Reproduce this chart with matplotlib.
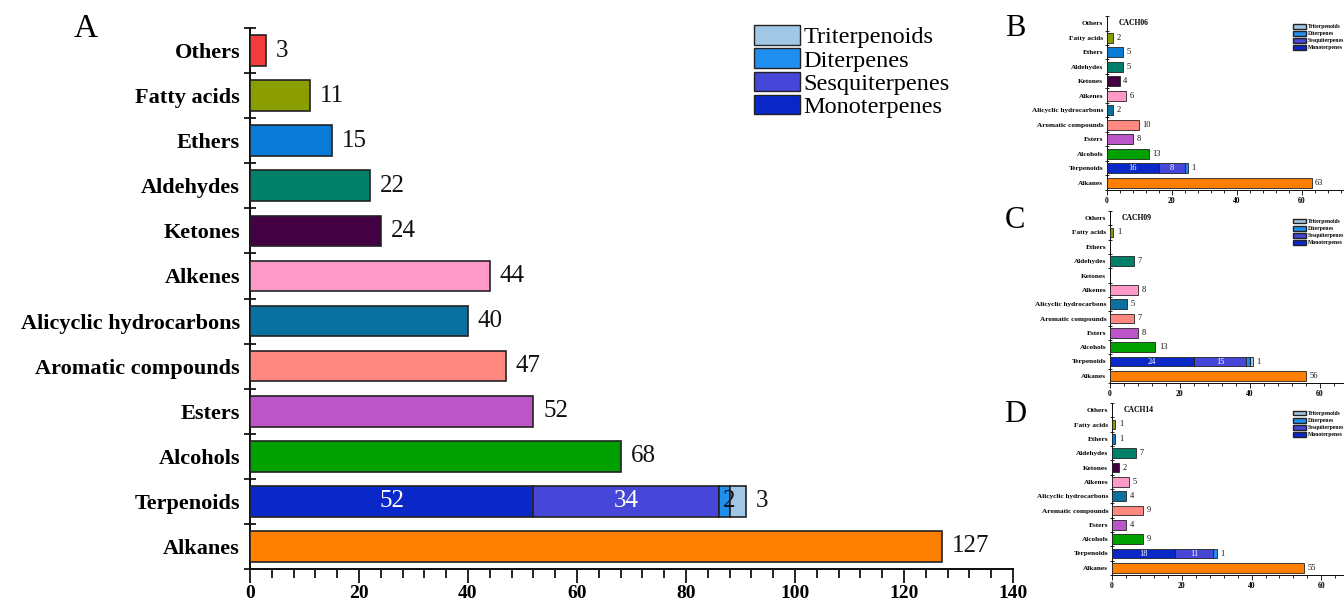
import matplotlib
matplotlib.use("Agg")
import matplotlib.pyplot as plt
from matplotlib.ticker import MultipleLocator, FixedLocator
from matplotlib.patches import Patch

plt.rcParams['font.family'] = ['Liberation Serif', 'DejaVu Serif']

# Compound classes, bottom to top
categories = ["Alkanes", "Terpenoids", "Alcohols", "Esters", "Aromatic compounds",
              "Alicyclic hydrocarbons", "Alkenes", "Ketones", "Aldehydes", "Ethers",
              "Fatty acids", "Others"]
class_colors = ["#FF7F00", None, "#00A000", "#BB55C8", "#FF8880", "#0A70A0",
                "#FF9AC8", "#430042", "#008068", "#0A7CD8", "#8A9E00", "#F53C3C"]

# Terpenoid sub-classes (stacked, left to right)
terp_names = ["Monoterpenes", "Sesquiterpenes", "Diterpenes", "Triterpenoids"]
terp_colors = ["#0A28C8", "#4646D8", "#2090F0", "#A0C8E6"]

# Panel A: all samples
total_counts = [127, None, 68, 52, 47, 40, 44, 24, 22, 15, 11, 3]
total_terp = [52, 34, 2, 3]

# Panel B: CACH06
cach06_counts = [63, None, 13, 8, 10, 2, 6, 4, 5, 5, 2, 0]
cach06_terp = [16, 8, 1, 0]

# Panel C: CACH09
cach09_counts = [56, None, 13, 8, 7, 5, 8, 0, 7, 0, 1, 0]
cach09_terp = [24, 15, 1, 1]

# Panel D: CACH14
cach14_counts = [55, None, 9, 4, 9, 4, 5, 2, 7, 1, 1, 0]
cach14_terp = [18, 11, 1, 0]

W, H = 1344, 604
fig = plt.figure(figsize=(W / 100, H / 100), dpi=100)


def draw_panel(ax, counts, terp, xmax, xmajor, xminor, cat_fs, val_fs, inner_fs,
               xlab_fs, xlab_pad, edge_lw, pad, tick_len):
    y = list(range(len(categories)))
    for i, (c, col) in enumerate(zip(counts, class_colors)):
        if c is None:
            continue
        if c > 0:
            ax.barh(i, c, height=0.68, color=col, edgecolor="#222222",
                    linewidth=edge_lw, zorder=3)
            ax.text(c + pad, i, str(c), va='center', ha='left',
                    fontsize=val_fs, color="#111111")
    # stacked terpenoid bar
    ti = categories.index("Terpenoids")
    left = 0
    for v, col in zip(terp, terp_colors):
        if v > 0:
            ax.barh(ti, v, left=left, height=0.68, color=col, edgecolor="#222222",
                    linewidth=edge_lw, zorder=3)
        left += v
    m, s, d, t = terp
    ax.text(m / 2, ti, str(m), ha='center', va='center', color='white', fontsize=inner_fs)
    ax.text(m + s / 2, ti, str(s), ha='center', va='center', color='white', fontsize=inner_fs)
    if t > 0:
        ax.text(m + s + d, ti, str(d), ha='center', va='center', color='#111111',
                fontsize=inner_fs)
        ax.text(m + s + d + t + pad, ti, str(t), ha='left', va='center',
                color='#111111', fontsize=val_fs)
    else:
        ax.text(m + s + d + pad, ti, str(d), ha='left', va='center',
                color='#111111', fontsize=val_fs)

    ax.set_xlim(0, xmax)
    ax.set_ylim(-0.5, len(categories) - 0.5)
    ax.set_yticks(y)
    ax.set_yticklabels(categories, fontsize=cat_fs, fontweight='bold')
    ax.yaxis.set_minor_locator(FixedLocator([i - 0.5 for i in range(len(categories) + 1)]))
    ax.tick_params(axis='y', which='major', length=0, pad=tick_len * 0.9)
    ax.tick_params(axis='y', which='minor', direction='inout', length=tick_len,
                   width=edge_lw)
    ax.xaxis.set_major_locator(MultipleLocator(xmajor))
    ax.xaxis.set_minor_locator(MultipleLocator(xminor))
    ax.tick_params(axis='x', which='major', direction='out', length=tick_len * 1.3,
                   width=edge_lw, labelsize=xlab_fs, pad=xlab_pad)
    ax.tick_params(axis='x', which='minor', direction='out', length=tick_len * 0.8,
                   width=edge_lw)
    for lab in ax.get_xticklabels():
        lab.set_fontweight('bold')
    for side in ('top', 'right'):
        ax.spines[side].set_visible(False)
    for side in ('left', 'bottom'):
        ax.spines[side].set_linewidth(edge_lw * 1.2)
        ax.spines[side].set_color('#111111')


def legend(ax, **kw):
    handles = [Patch(facecolor=c, edgecolor="#222222", label=n)
               for n, c in zip(terp_names, terp_colors)][::-1]
    ax.legend(handles=handles, frameon=False, **kw)


# Panel A
axA = fig.add_axes([250 / W, 1 - 569 / H, 763 / W, 541 / H])
draw_panel(axA, total_counts, total_terp, 140, 20, 4, cat_fs=16, val_fs=18,
           inner_fs=18, xlab_fs=14, xlab_pad=1.0, edge_lw=1.2, pad=1.8, tick_len=8)
legend(axA, loc='upper left', bbox_to_anchor=(504 / 763, 1.005),
       prop={'size': 17.5}, handlelength=1.9, handleheight=0.85,
       labelspacing=0.0, handletextpad=0.12, borderaxespad=0, borderpad=0)
fig.text(86 / W, 1 - 29 / H, "A", fontsize=24, ha='center', va='center')

# Small panels B, C, D
small = [
    ("B", "CACH06", cach06_counts, cach06_terp, [1107, 190, 237, 174], 73, 29),
    ("C", "CACH09", cach09_counts, cach09_terp, [1110, 383, 234, 172], 67, 220),
    ("D", "CACH14", cach14_counts, cach14_terp, [1112, 575, 232, 172], 66.5, 414),
]
for letter, title, counts, terp, (lx, by, wd, ht), xmax, ly in small:
    ax = fig.add_axes([lx / W, 1 - by / H, wd / W, ht / H])
    draw_panel(ax, counts, terp, xmax, 20, 4, cat_fs=5.2, val_fs=6, inner_fs=6,
               xlab_fs=5.5, xlab_pad=1.5, edge_lw=0.6, pad=1.0, tick_len=3)
    ax.text(0.05, 0.985, title, transform=ax.transAxes, fontsize=5.5,
            fontweight='bold', ha='left', va='top')
    legend(ax, loc='upper right', bbox_to_anchor=(1.0, 0.955),
           prop={'weight': 'bold', 'size': 4.1}, handlelength=2.3,
           handleheight=0.9, labelspacing=0.3, handletextpad=0.3,
           borderaxespad=0, borderpad=0)
    fig.text(1015 / W, 1 - ly / H, letter, fontsize=22, ha='center', va='center')

fig.savefig("out.png", dpi=100)
